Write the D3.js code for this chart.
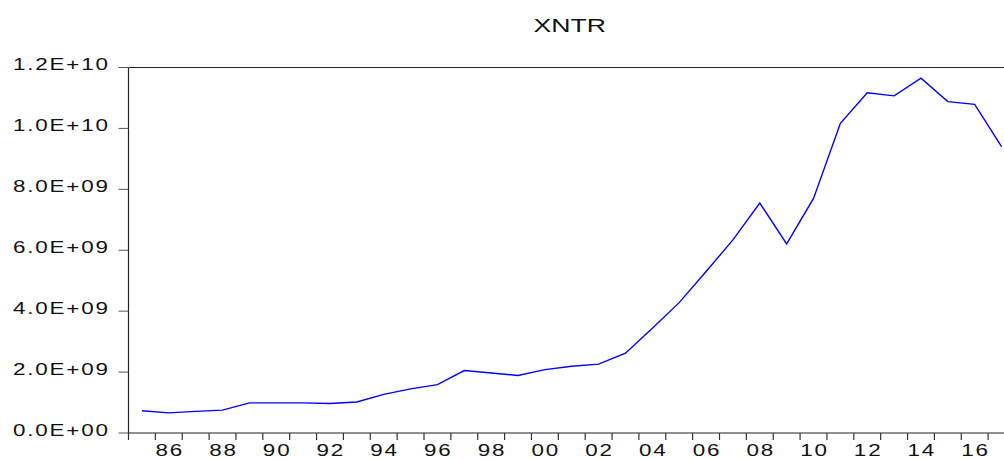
<!DOCTYPE html>
<html>
<head>
<meta charset="utf-8">
<script src="https://cdn.jsdelivr.net/npm/d3@7"></script>
<style>
  html, body { margin: 0; padding: 0; background: #fff; overflow: hidden; }
  text { font-family: "Liberation Sans", Arial, sans-serif; fill: #111; }
</style>
</head>
<body>
<div class="xntr-chart"></div>
<script>
////////// DATA //////////

const title = "XNTR";
const years = d3.range(1985, 2018);
// values in billions (E+09)
const values = [0.73, 0.66, 0.71, 0.75, 0.99, 0.99, 0.99, 0.97, 1.02, 1.27,
  1.45, 1.59, 2.05, 1.97, 1.89, 2.08, 2.19, 2.26, 2.62, 3.44,
  4.28, 5.30, 6.34, 7.55, 6.21, 7.70, 10.17, 11.17, 11.07, 11.65,
  10.88, 10.79, 9.40];
const yTicks = [0, 2e9, 4e9, 6e9, 8e9, 1e10, 1.2e10];
const xLabelYears = d3.range(1986, 2017, 2);

////////// SETUP //////////

const width = 1004, height = 459;
const margin = { top: 67.5, left: 128.5, bottom: 26 };
const plotRight = 1015;

let data = years.map((y, i) => ({ year: y, value: values[i] * 1e9 }));

let svg = d3.select(".xntr-chart")
  .append("svg")
  .attr("width", width)
  .attr("height", height);

// x: one band per year, points at band centre
let x = d3.scaleLinear()
  .domain([1985, 2018])
  .range([margin.left, plotRight]);

let y = d3.scaleLinear()
  .domain([0, 1.2e10])
  .range([height - margin.bottom, margin.top]);

let fmt = v => {
  let s = v.toExponential(1).toUpperCase();
  return s.replace(/E([+-])(\d)$/, "E$10$2");
};

////////// AXES //////////

// top frame line
svg.append("line")
  .attr("x1", margin.left).attr("x2", width)
  .attr("y1", y(1.2e10)).attr("y2", y(1.2e10))
  .attr("stroke", "#222").attr("stroke-width", 1.2);

// y axis
svg.append("line")
  .attr("x1", margin.left).attr("x2", margin.left)
  .attr("y1", y(1.2e10)).attr("y2", y(0))
  .attr("stroke", "#222").attr("stroke-width", 1.2);

let yt = svg.append("g").attr("class", "y-ticks")
  .selectAll("g").data(yTicks).enter().append("g");

yt.append("line")
  .attr("x1", margin.left - 10).attr("x2", margin.left)
  .attr("y1", d => y(d)).attr("y2", d => y(d))
  .attr("stroke", "#555").attr("stroke-width", 1);

yt.append("text")
  .attr("transform", d => "translate(109.8," + (y(d) + 2.5) + ") scale(1.4,1)")
  .attr("text-anchor", "end")
  .style("font-size", "16px")
  .style("letter-spacing", "1.3px")
  .text(d => fmt(d));

// x axis
svg.append("line")
  .attr("x1", margin.left).attr("x2", width)
  .attr("y1", y(0)).attr("y2", y(0))
  .attr("stroke", "#222").attr("stroke-width", 1.2);

svg.append("g").attr("class", "x-ticks")
  .selectAll("line").data(d3.range(1985, 2019)).enter()
  .append("line")
  .attr("x1", d => x(d)).attr("x2", d => x(d))
  .attr("y1", y(0)).attr("y2", y(0) + 7)
  .attr("stroke", "#333").attr("stroke-width", 1.2);

svg.append("g").attr("class", "x-labels")
  .selectAll("text").data(xLabelYears).enter()
  .append("text")
  .attr("transform", d => "translate(" + (x(d + 0.5) + 0.9) + ",455.5) scale(1.4,1)")
  .attr("text-anchor", "middle")
  .style("font-size", "16px")
  .style("letter-spacing", "1.3px")
  .text(d => String(d % 100).padStart(2, "0"));

////////// TITLE //////////

svg.append("text")
  .attr("transform", "translate(" + ((margin.left + plotRight) / 2 - 2) + ",32) scale(1.44,1)")
  .attr("text-anchor", "middle")
  .style("font-size", "18.5px")
  .text(title);

////////// LINE //////////

let line = d3.line()
  .x(d => x(d.year + 0.5))
  .y(d => y(d.value));

svg.append("path")
  .datum(data)
  .attr("d", line)
  .attr("fill", "none")
  .attr("stroke", "#0000ff")
  .attr("stroke-width", 1.4);
</script>
</body>
</html>
